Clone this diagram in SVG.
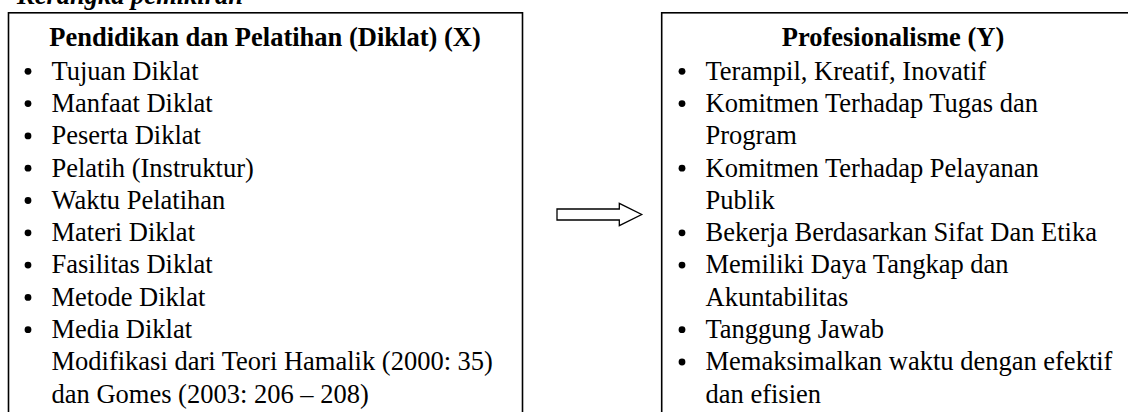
<svg xmlns="http://www.w3.org/2000/svg" width="1128" height="412" viewBox="0 0 1128 412">
<style>
.box{fill:#fff;stroke:#000;stroke-width:1.6}
.t{font-family:"Liberation Serif","Times New Roman",serif;font-size:26.5px;fill:#000}
.h{font-family:"Liberation Serif","Times New Roman",serif;font-size:26.5px;font-weight:bold;fill:#000}
.cap{font-family:"Liberation Serif","Times New Roman",serif;font-size:26.5px;font-weight:bold;font-style:italic;fill:#000}
.b{fill:#000}
.arrow{fill:#fff;stroke:#000;stroke-width:1.3;stroke-linejoin:miter}
</style>
<rect width="1128" height="412" fill="#fff"/>
<text class="cap" x="17" y="3.5">Kerangka pemikiran</text>
<g id="node-diklat">
<rect class="box" x="8.5" y="12.8" width="514" height="420"/>
<text class="h" x="265" y="46" text-anchor="middle">Pendidikan dan Pelatihan (Diklat) (X)</text>
<g class="b">
<circle cx="28" cy="71.3" r="3.4"/>
<circle cx="28" cy="103.6" r="3.4"/>
<circle cx="28" cy="135.9" r="3.4"/>
<circle cx="28" cy="168.2" r="3.4"/>
<circle cx="28" cy="200.5" r="3.4"/>
<circle cx="28" cy="232.8" r="3.4"/>
<circle cx="28" cy="265.1" r="3.4"/>
<circle cx="28" cy="297.4" r="3.4"/>
<circle cx="28" cy="329.7" r="3.4"/>
</g>
<text class="t" x="51.5" y="79.6">Tujuan Diklat</text>
<text class="t" x="51.5" y="111.9">Manfaat Diklat</text>
<text class="t" x="51.5" y="144.2">Peserta Diklat</text>
<text class="t" x="51.5" y="176.5">Pelatih (Instruktur)</text>
<text class="t" x="51.5" y="208.8">Waktu Pelatihan</text>
<text class="t" x="51.5" y="241.1">Materi Diklat</text>
<text class="t" x="51.5" y="273.4">Fasilitas Diklat</text>
<text class="t" x="51.5" y="305.7">Metode Diklat</text>
<text class="t" x="51.5" y="338">Media Diklat</text>
<text class="t" x="51.5" y="370.3">Modifikasi dari Teori Hamalik (2000: 35)</text>
<text class="t" x="51.5" y="402.6">dan Gomes (2003: 206 – 208)</text>
</g>
<g id="node-profesionalisme">
<rect class="box" x="661.7" y="12.8" width="500" height="420"/>
<text class="h" x="893" y="46" text-anchor="middle">Profesionalisme (Y)</text>
<g class="b">
<circle cx="682" cy="71.3" r="3.4"/>
<circle cx="682" cy="103.6" r="3.4"/>
<circle cx="682" cy="168.2" r="3.4"/>
<circle cx="682" cy="232.8" r="3.4"/>
<circle cx="682" cy="265.1" r="3.4"/>
<circle cx="682" cy="329.7" r="3.4"/>
<circle cx="682" cy="362" r="3.4"/>
</g>
<text class="t" x="705.5" y="79.6">Terampil, Kreatif, Inovatif</text>
<text class="t" x="705.5" y="111.9">Komitmen Terhadap Tugas dan</text>
<text class="t" x="705.5" y="144.2">Program</text>
<text class="t" x="705.5" y="176.5">Komitmen Terhadap Pelayanan</text>
<text class="t" x="705.5" y="208.8">Publik</text>
<text class="t" x="705.5" y="241.1">Bekerja Berdasarkan Sifat Dan Etika</text>
<text class="t" x="705.5" y="273.4">Memiliki Daya Tangkap dan</text>
<text class="t" x="705.5" y="305.7">Akuntabilitas</text>
<text class="t" x="705.5" y="338">Tanggung Jawab</text>
<text class="t" x="705.5" y="370.3">Memaksimalkan waktu dengan efektif</text>
<text class="t" x="705.5" y="402.6">dan efisien</text>
</g>
<g id="connectors">
<polygon class="arrow" points="557,209 619.3,209 619.3,203.3 641.7,214.5 619.3,225.7 619.3,220 557,220"/>
</g>
</svg>
